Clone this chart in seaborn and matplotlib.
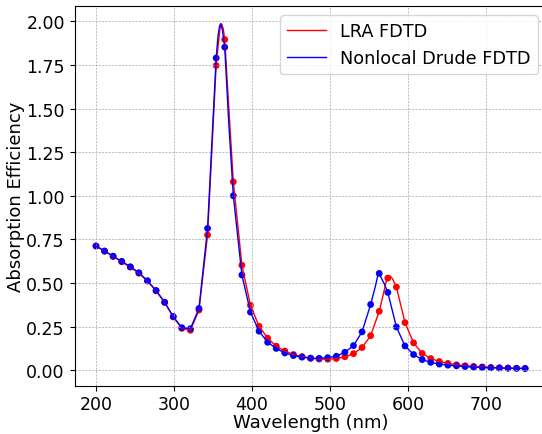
import numpy as np
import pandas as pd
import matplotlib
matplotlib.use("Agg")
import matplotlib.pyplot as plt
import seaborn as sns

# sampled wavelengths (nm), one marker every 11 nm
wavelength = [200, 211, 222, 233, 244, 255, 266, 277, 288, 299,
              310, 321, 332, 343, 354, 365, 376, 387, 398, 409,
              420, 431, 442, 453, 464, 475, 486, 497, 508, 519,
              530, 541, 552, 563, 574, 585, 596, 607, 618, 629,
              640, 651, 662, 673, 684, 695, 706, 717, 728, 739, 750]

lra_fdtd = [0.712, 0.683, 0.652, 0.622, 0.591, 0.556, 0.511, 0.455, 0.389, 0.305,
            0.240, 0.229, 0.345, 0.775, 1.747, 1.896, 1.080, 0.602, 0.372, 0.252,
            0.184, 0.138, 0.110, 0.090, 0.078, 0.069, 0.064, 0.063, 0.067, 0.077,
            0.095, 0.130, 0.198, 0.338, 0.528, 0.477, 0.273, 0.157, 0.096, 0.067,
            0.050, 0.039, 0.031, 0.026, 0.022, 0.019, 0.016, 0.014, 0.012, 0.011, 0.010]

drude_fdtd = [0.712, 0.683, 0.654, 0.624, 0.593, 0.559, 0.513, 0.457, 0.390, 0.308,
              0.244, 0.238, 0.354, 0.813, 1.790, 1.852, 1.000, 0.546, 0.333, 0.224,
              0.160, 0.125, 0.099, 0.084, 0.075, 0.069, 0.068, 0.072, 0.080, 0.103,
              0.141, 0.220, 0.377, 0.555, 0.446, 0.248, 0.139, 0.090, 0.061, 0.045,
              0.035, 0.029, 0.025, 0.021, 0.018, 0.016, 0.014, 0.013, 0.012, 0.011, 0.010]

# extra points of the continuous spectra around the resonances
lra_peak_wl = [357, 359, 361, 363, 370, 569, 572, 577, 580]
lra_peak_val = [1.88, 1.96, 1.985, 1.96, 1.52, 0.45, 0.51, 0.540, 0.525]

drude_peak_wl = [356.5, 358.5, 360, 362, 370, 558, 561, 566, 569]
drude_peak_val = [1.92, 1.975, 1.987, 1.95, 1.43, 0.48, 0.54, 0.525, 0.50]

labels = ["LRA FDTD", "Nonlocal Drude FDTD"]
colors = ["red", "blue"]

pts = pd.concat([
    pd.DataFrame({"wl": wavelength, "val": lra_fdtd, "model": labels[0]}),
    pd.DataFrame({"wl": wavelength, "val": drude_fdtd, "model": labels[1]}),
])
lines = pd.concat([
    pts,
    pd.DataFrame({"wl": lra_peak_wl, "val": lra_peak_val, "model": labels[0]}),
    pd.DataFrame({"wl": drude_peak_wl, "val": drude_peak_val, "model": labels[1]}),
]).sort_values(["model", "wl"])

plt.rcParams["font.family"] = ["DejaVu Sans"]
fig = plt.figure(figsize=(5.42, 4.35), dpi=100)
# the original was cut a few pixels short on the right, so the axes run past the edge
ax = fig.add_axes([0.1375, 0.111, 0.871, 0.872])

palette = dict(zip(labels, colors))
sns.lineplot(data=lines, x="wl", y="val", hue="model", hue_order=labels,
             palette=palette, linewidth=1.0, sort=False, estimator=None, ax=ax)
sns.scatterplot(data=pts, x="wl", y="val", hue="model", hue_order=labels,
                palette=palette, s=24, linewidth=0, legend=False, ax=ax)

ax.set_xticks([200, 300, 400, 500, 600, 700])
ax.set_yticks(np.arange(0, 2.01, 0.25))
ax.yaxis.set_major_formatter(matplotlib.ticker.FormatStrFormatter("%.2f"))
ax.grid(True, linestyle=(0, (2.5, 1.5)), color="0.7", linewidth=0.6)
ax.tick_params(labelsize=12.5)
ax.set_xlabel("Wavelength (nm)", fontsize=13, labelpad=0)
ax.set_ylabel("Absorption Efficiency", fontsize=13, labelpad=1)

ax.legend(loc="upper right", fontsize=12.7, title=None, handlelength=2.2)

fig.savefig("out.png", dpi=100)
